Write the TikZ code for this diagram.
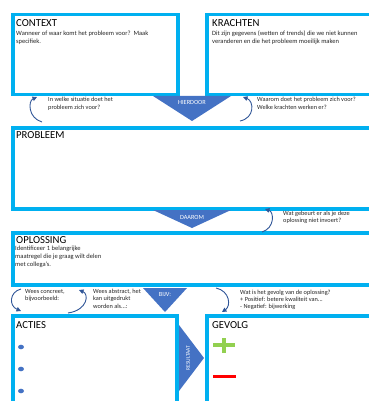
\documentclass[tikz,border=0pt]{standalone}
\usepackage{fontspec}
\setmainfont{Carlito}
\usetikzlibrary{arrows.meta}
\definecolor{kader}{RGB}{0,176,240}
\definecolor{donkerblauw}{RGB}{68,114,196}
\definecolor{pijlblauw}{RGB}{47,85,151}
\definecolor{plusgroen}{RGB}{146,208,80}
\begin{document}
\begin{tikzpicture}[x=1pt, y=-1pt,
    vak/.style = {draw=kader, line width=3.5pt, fill=white, anchor=north west, inner sep=0pt},
    kop/.style = {anchor=base west, inner sep=0pt, font=\fontsize{10.7}{12}\selectfont},
    uitleg/.style = {anchor=north west, inner sep=0pt, align=left, text=black!85,
                     font=\fontsize{6.3}{7.6}\selectfont},
    pijltekst/.style = {text=white, inner sep=0pt, font=\fontsize{6.3}{7}\selectfont},
    boog/.style = {draw=pijlblauw, line width=0.9pt, -{Triangle[length=4.5pt,width=4.5pt]}}]
    \useasboundingbox (0,0) rectangle (368,401);
    % kaders
    \node[vak, minimum width=165pt, minimum height=80pt] (context) at (11,13) {};
    \node[vak, minimum width=170pt, minimum height=80pt] (krachten) at (205,13) {};
    \node[vak, minimum width=365pt, minimum height=81pt] (probleem) at (11,126) {};
    \node[vak, minimum width=365pt, minimum height=52pt] (oplossing) at (11,231) {};
    \node[vak, minimum width=164pt, minimum height=95pt] (acties) at (11,314) {};
    \node[vak, minimum width=170pt, minimum height=95pt] (gevolg) at (205,314) {};
    % titels en uitleg
    \node[kop] (contextkop) at (16,27) {CONTEXT};
    \node[uitleg, font=\fontsize{6.5}{8}\selectfont] (contexttekst) at (16,31) {Wanneer of waar komt het probleem voor?~~Maak\\specifiek.};
    \node[kop] (krachtenkop) at (212,27) {KRACHTEN};
    \node[uitleg, font=\fontsize{6.5}{8}\selectfont] (krachtentekst) at (212,31) {Dit zijn gegevens (wetten of trends) die we niet kunnen\\veranderen en die het probleem moeilijk maken};
    \node[kop] (probleemkop) at (16,139) {PROBLEEM};
    \node[kop] (oplossingkop) at (16,243.5) {OPLOSSING};
    \node[uitleg, font=\fontsize{6.5}{8}\selectfont] (oplossingtekst) at (15,245.5) {Identificeer 1 belangrijke\\maatregel die je graag wilt delen\\met collega's.};
    \node[kop] (actieskop) at (16,328.5) {ACTIES};
    \node[kop] (gevolgkop) at (212,328.5) {GEVOLG};
    % driehoeken
    \fill[donkerblauw] (153,96) -- (231,96) -- (192,121) -- cycle;
    \node[pijltekst] (hierdoor) at (192,102.5) {HIERDOOR};
    \fill[donkerblauw] (153,210) -- (231,210) -- (192,228) -- cycle;
    \node[pijltekst] (daarom) at (192,217) {DAAROM};
    \fill[donkerblauw] (143,288) -- (187,288) -- (165,312) -- cycle;
    \node[pijltekst] (bijv) at (165,295) {BIJV:};
    \fill[donkerblauw] (179,325) -- (204,358) -- (179,391) -- cycle;
    \node[pijltekst, rotate=90, font=\fontsize{5.5}{6}\selectfont] (resultaat) at (188,358) {RESULTAAT};
    % vragen
    \node[uitleg] (situatie) at (48,97) {In welke situatie doet het\\probleem zich voor?};
    \node[uitleg] (waarom) at (257,97) {Waarom doet het probleem zich voor?\\Welke krachten werken er?};
    \node[uitleg] (gebeurt) at (283,210.5) {Wat gebeurt er als je deze\\oplossing niet invoert?};
    \node[uitleg, font=\fontsize{6.3}{7.3}\selectfont] (concreet) at (25,289) {Wees concreet,\\bijvoorbeeld:};
    \node[uitleg, font=\fontsize{6.3}{7.3}\selectfont] (abstract) at (93,289) {Wees abstract, het\\kan uitgedrukt\\worden als...:};
    \node[uitleg, font=\fontsize{6.3}{7.3}\selectfont] (gevolgvraag) at (240,289.5) {Wat is het gevolg van de oplossing?\\+ Positief: betere kwaliteit van...\\- Negatief: bijwerking};
    % bogen
    \coordinate (s1) at (42,122);  \coordinate (e1) at (37,97);
    \coordinate (s2) at (240,121); \coordinate (e2) at (243,97);
    \coordinate (s3) at (262,232); \coordinate (e3) at (265,209);
    \coordinate (s4) at (21,289);  \coordinate (e4) at (21,311);
    \coordinate (s5) at (68,313);  \coordinate (e5) at (79,290);
    \coordinate (s6) at (216,288); \coordinate (e6) at (222,312);
    \draw[boog] (s1) .. controls (28,118) and (28,101) .. (e1);
    \draw[boog] (s2) .. controls (255,118) and (254,101) .. (e2);
    \draw[boog] (s3) .. controls (275,228) and (274,212) .. (e3);
    \draw[boog] (s4) .. controls (9,292) and (9,306) .. (e4);
    \draw[boog] (s5) .. controls (88,310) and (89,294) .. (e5);
    \draw[boog] (s6) .. controls (230,291) and (231,306) .. (e6);
    % opsomming, plus en min
    \foreach \y in {347,369,391}
        \fill[donkerblauw] (21,\y) ellipse [x radius=3pt, y radius=2.3pt];
    \draw[plusgroen, line width=4pt] (213,345) -- (235,345) (224,338) -- (224,353);
    \draw[red, line width=3.5pt] (213,376.5) -- (236,376.5);
\end{tikzpicture}
\end{document}
